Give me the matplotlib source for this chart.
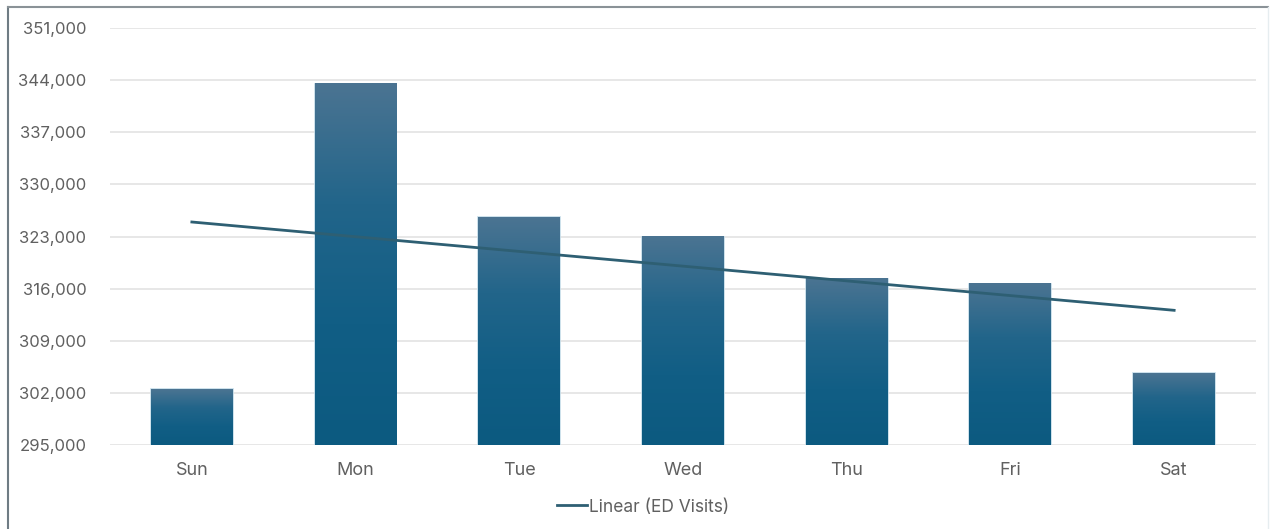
import numpy as np
import matplotlib
matplotlib.use("Agg")
import matplotlib.pyplot as plt
from matplotlib.colors import LinearSegmentedColormap
from matplotlib.lines import Line2D

plt.rcParams['font.family'] = ['Inter', 'DejaVu Sans']

# data
days = ["Sun", "Mon", "Tue", "Wed", "Thu", "Fri", "Sat"]
ed_visits = [302460, 343480, 325600, 322950, 317310, 316680, 304640]
y_ticks = [295000, 302000, 309000, 316000, 323000, 330000, 337000, 344000, 351000]

text_col = "#606060"
grid_col = "#e3e3e3"
trend_col = "#2e5f73"
bar_cmap = LinearSegmentedColormap.from_list(
    "bar", ["#0c5a80", "#115e85", "#22658a", "#4b7492"])

fig = plt.figure(figsize=(12.71, 5.29), dpi=100)
ax = fig.add_axes([110 / 1271, 1 - 445 / 529, (1256 - 110) / 1271, (445 - 28) / 529])

x = np.arange(len(days))
width = 0.5
ymin = y_ticks[0]

# gradient bars (light at top, dark at bottom)
grad = np.linspace(0, 1, 256).reshape(-1, 1)
for xi, v in zip(x, ed_visits):
    ax.bar(xi, v - ymin, bottom=ymin, width=width, facecolor="none",
           edgecolor="#c4dbe8", linewidth=1.2, zorder=1.5)
    ax.imshow(grad, cmap=bar_cmap, origin="lower", aspect="auto",
              extent=[xi - width / 2, xi + width / 2, ymin, v], zorder=2)

# linear trendline
coef = np.polyfit(x, ed_visits, 1)
trend = np.polyval(coef, x)
ax.plot(x, trend, color=trend_col, linewidth=2, zorder=3)

ax.set_xlim(-0.5, len(days) - 0.5)
ax.set_ylim(y_ticks[0], y_ticks[-1])
ax.set_yticks(y_ticks)
ax.set_yticklabels([f"{t:,}" for t in y_ticks])
ax.set_xticks(x)
ax.set_xticklabels(days)
ax.tick_params(axis="both", length=0, colors=text_col)
ax.tick_params(axis="y", pad=17, labelsize=12)
ax.tick_params(axis="x", pad=12, labelsize=13)
ax.yaxis.grid(True, color=grid_col, linewidth=1.2, zorder=0)
ax.set_axisbelow(True)
for s in ax.spines.values():
    s.set_visible(False)

handle = Line2D([0], [0], color=trend_col, linewidth=2)
fig.legend([handle], ["Linear (ED Visits)"], loc="center",
           bbox_to_anchor=(643 / 1271, 1 - 507 / 529), frameon=False,
           fontsize=12.5, labelcolor=text_col, handlelength=1.7,
           handletextpad=0.1)

# outer border (top and left visible in the reference)
fig.add_artist(Line2D([8 / 1271, 8 / 1271], [0, 1 - 7 / 529],
                      transform=fig.transFigure, color="#6f7c84", linewidth=1.5))
fig.add_artist(Line2D([8 / 1271, 1268 / 1271], [1 - 7 / 529, 1 - 7 / 529],
                      transform=fig.transFigure, color="#8a9297", linewidth=1.5))
fig.add_artist(Line2D([1268 / 1271, 1268 / 1271], [0, 1 - 7 / 529],
                      transform=fig.transFigure, color="#e6edf0", linewidth=1))

fig.savefig("out.png", dpi=100)
